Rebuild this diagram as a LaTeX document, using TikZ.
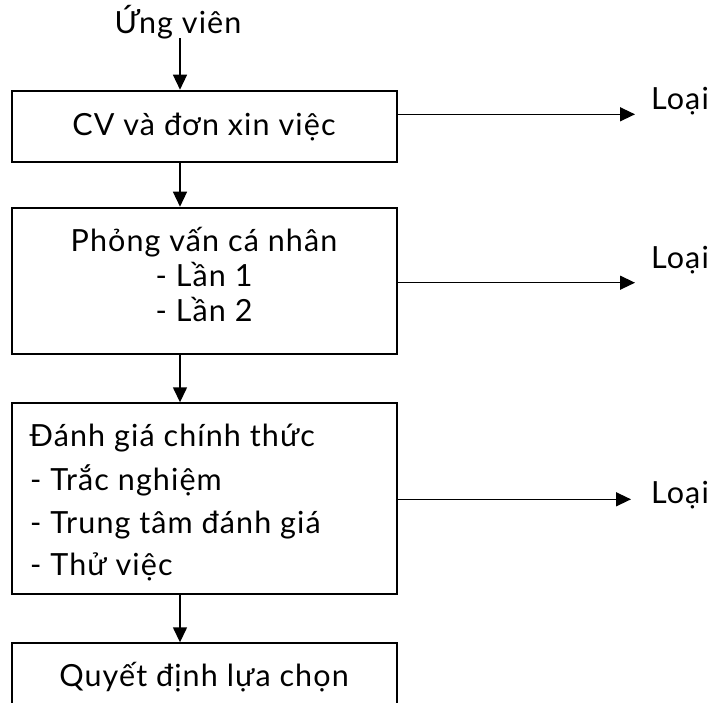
\documentclass[tikz,border=0pt]{standalone}
\usepackage{fontspec}
\setmainfont{Lato}[LetterSpace=3.6]
\usetikzlibrary{arrows.meta}

\begin{document}
\begin{tikzpicture}[x=1pt,y=-1pt,
  stagebox/.style={draw,line width=2pt,rectangle,inner sep=0pt,minimum width=384.5pt},
  label/.style={font=\fontsize{30.5}{36}\selectfont,inner sep=0pt},
  flow/.style={line width=1.4pt,-{Triangle[length=15pt,width=14pt]}}]
  \useasboundingbox (0,0) rectangle (712,702);

  % stage boxes (the last one runs past the lower edge)
  \node[stagebox,minimum height=71pt]   (b1) at (204.25,126.2) {};
  \node[stagebox,minimum height=146.6pt] (b2) at (204.25,281) {};
  \node[stagebox,minimum height=191pt]  (b3) at (204.25,498.8) {};
  \node[stagebox,minimum height=100pt]  (b4) at (204.25,693.3) {};

  % texts
  \node[label,anchor=base] (ung) at (178,33) {Ứng viên};
  \node[label,anchor=base] (t1) at (204,135) {CV và đơn xin việc};
  \node[label,anchor=base] (t2a) at (204,251.7) {Phỏng vấn cá nhân};
  \node[label,anchor=base] (t2b) at (204,286) {- Lần 1};
  \node[label,anchor=base] (t2c) at (204,321.7) {- Lần 2};
  \node[label,anchor=base west] (t3a) at (29.5,446) {Đánh giá chính thức};
  \node[label,anchor=base west] (t3b) at (30,490) {- Trắc nghiệm};
  \node[label,anchor=base west] (t3c) at (30,533) {- Trung tâm đánh giá};
  \node[label,anchor=base west] (t3d) at (30,575) {- Thử việc};
  \node[label,anchor=base] (t4) at (204,686.7) {Quyết định lựa chọn};

  \node[label,anchor=base west] (r1) at (651,109.3) {Loại};
  \node[label,anchor=base west] (r2) at (651,268) {Loại};
  \node[label,anchor=base west] (r3) at (651,503) {Loại};

  % rejection ends
  \coordinate (e1) at (635,114.3);
  \coordinate (e2) at (635,282.7);
  \coordinate (e3) at (631,499.3);

  % main flow
  \draw[flow] (180,38) -- (b1.north -| 180,0);
  \draw[flow] (b1.south -| 180,0) -- (b2.north -| 180,0);
  \draw[flow] (b2.south -| 180,0) -- (b3.north -| 180,0);
  \draw[flow] (b3.south -| 180,0) -- (b4.north -| 180,0);

  % rejections
  \draw[flow] (b1.east |- e1) -- (e1);
  \draw[flow] (b2.east |- e2) -- (e2);
  \draw[flow] (b3.east |- e3) -- (e3);
\end{tikzpicture}
\end{document}
